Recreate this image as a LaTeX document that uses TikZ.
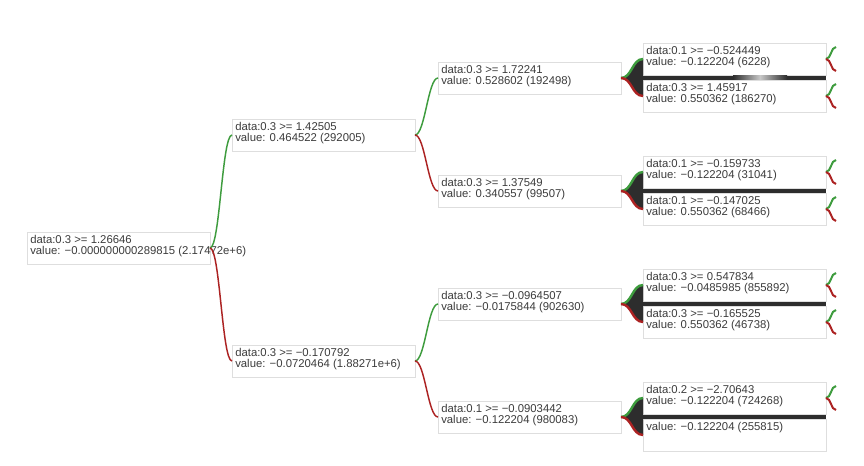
\documentclass[tikz,border=0pt]{standalone}
\usepackage{fontspec}
\setmainfont{Liberation Sans}
\definecolor{boxgray}{RGB}{222,222,222}
\definecolor{txtgray}{RGB}{60,60,60}
\definecolor{lgreen}{RGB}{62,156,62}
\definecolor{lred}{RGB}{172,34,34}
\definecolor{bardark}{RGB}{45,45,45}
\definecolor{barlight}{RGB}{200,200,200}
\tikzset{
  box/.style={draw=boxgray, line width=0.6pt, fill=white, minimum width=137.25pt,
    minimum height=24pt, inner sep=0pt, outer sep=0pt, anchor=north west},
  txt/.style={anchor=north west, inner sep=0pt, align=left, text=txtgray,
    font=\fontsize{8.5pt}{8.6pt}\selectfont},
  glink/.style={draw=lgreen, line width=1.1pt},
  rlink/.style={draw=lred, line width=1.1pt},
  gthick/.style={draw=lgreen, line width=1.8pt},
  rthick/.style={draw=lred, line width=1.8pt},
  darkfill/.style={fill=bardark},
  barline/.style={draw=bardark, line width=3pt},
  gsmall/.style={draw=lgreen, line width=1.5pt},
  rsmall/.style={draw=lred, line width=1.5pt},
}
\newcommand\tnode[4]{%
  \node[box] (#1) at (#2) {};
  \node[txt] (#1-t) at ([shift={(3,2.7)}]#1.north west) {#3\\#4};
}
\newcommand\tleaf[3]{%
  \node[box] (#1) at (#2) {};
  \node[txt] (#1-t) at ([shift={(3,2.7)}]#1.north west) {#3};
}
\newcommand\bracketR[1]{%
  \coordinate (#1-g) at ([shift={(10,-12)}]#1.east);
  \coordinate (#1-r) at ([shift={(10,12)}]#1.east);
  \draw[gsmall] (#1.east) .. controls +(5,0) and +(-5,0) .. (#1-g);
  \draw[rsmall] (#1.east) .. controls +(5,0) and +(-5,0) .. (#1-r);
}
\newcommand\grpconn[3]{%
  \fill[darkfill] (#1.east) .. controls +(11,0) and +(-11,0) .. (#2.west)
     -- (#3.west) .. controls +(-11,0) and +(11,0) .. (#1.east) -- cycle;
  \draw[barline] ([xshift=6pt]#1.east) -- (#1.east -| #2.east);
  \draw[gthick] (#1.east) .. controls +(11,0) and +(-11,0) .. (#2.west);
  \draw[rthick] (#1.east) .. controls +(11,0) and +(-11,0) .. (#3.west);
}
\begin{document}
\begin{tikzpicture}[x=0.75pt, y=-0.75pt]
\useasboundingbox[fill=white] (0,0) rectangle (864,466);

% root and level 1
\tnode{r}{27,232}{data:0.3 >= 1.26646}{value: −0.000000000289815 (2.17472e+6)}
\tnode{a}{232,119}{data:0.3 >= 1.42505}{value: 0.464522 (292005)}
\tnode{b}{232,345}{data:0.3 >= −0.170792}{value: −0.0720464 (1.88271e+6)}

% level 2
\tnode{aa}{438,62}{data:0.3 >= 1.72241}{value: 0.528602 (192498)}
\tnode{ab}{438,175}{data:0.3 >= 1.37549}{value: 0.340557 (99507)}
\tnode{ba}{438,288}{data:0.3 >= −0.0964507}{value: −0.0175844 (902630)}
\tnode{bb}{438,401}{data:0.1 >= −0.0903442}{value: −0.122204 (980083)}

% level 3
\tnode{aa1}{643,43}{data:0.1 >= −0.524449}{value: −0.122204 (6228)}
\tnode{aa2}{643,80}{data:0.3 >= 1.45917}{value: 0.550362 (186270)}
\tnode{ab1}{643,156}{data:0.1 >= −0.159733}{value: −0.122204 (31041)}
\tnode{ab2}{643,193}{data:0.1 >= −0.147025}{value: 0.550362 (68466)}
\tnode{ba1}{643,269}{data:0.3 >= 0.547834}{value: −0.0485985 (855892)}
\tnode{ba2}{643,306}{data:0.3 >= −0.165525}{value: 0.550362 (46738)}
\tnode{bb1}{643,382}{data:0.2 >= −2.70643}{value: −0.122204 (724268)}
\tleaf{bb2}{643,419}{value: −0.122204 (255815)}

% connectors level 0-2
\draw[glink] (r.east) .. controls +(10,0) and +(-10,0) .. (a.west);
\draw[rlink] (r.east) .. controls +(10,0) and +(-10,0) .. (b.west);
\draw[glink] (a.east) .. controls +(10,0) and +(-10,0) .. (aa.west);
\draw[rlink] (a.east) .. controls +(10,0) and +(-10,0) .. (ab.west);
\draw[glink] (b.east) .. controls +(10,0) and +(-10,0) .. (ba.west);
\draw[rlink] (b.east) .. controls +(10,0) and +(-10,0) .. (bb.west);

% level 2 -> 3
\grpconn{aa}{aa1}{aa2}
\grpconn{ab}{ab1}{ab2}
\grpconn{ba}{ba1}{ba2}
\grpconn{bb}{bb1}{bb2}

% fading part of the first bar
\shade[left color=bardark, right color=barlight] (733,76) rectangle (760,80);
\shade[left color=barlight, right color=bardark] (760,76) rectangle (787,80);

% right-side brackets
\bracketR{aa1}
\bracketR{aa2}
\bracketR{ab1}
\bracketR{ab2}
\bracketR{ba1}
\bracketR{ba2}
\bracketR{bb1}
\end{tikzpicture}
\end{document}
